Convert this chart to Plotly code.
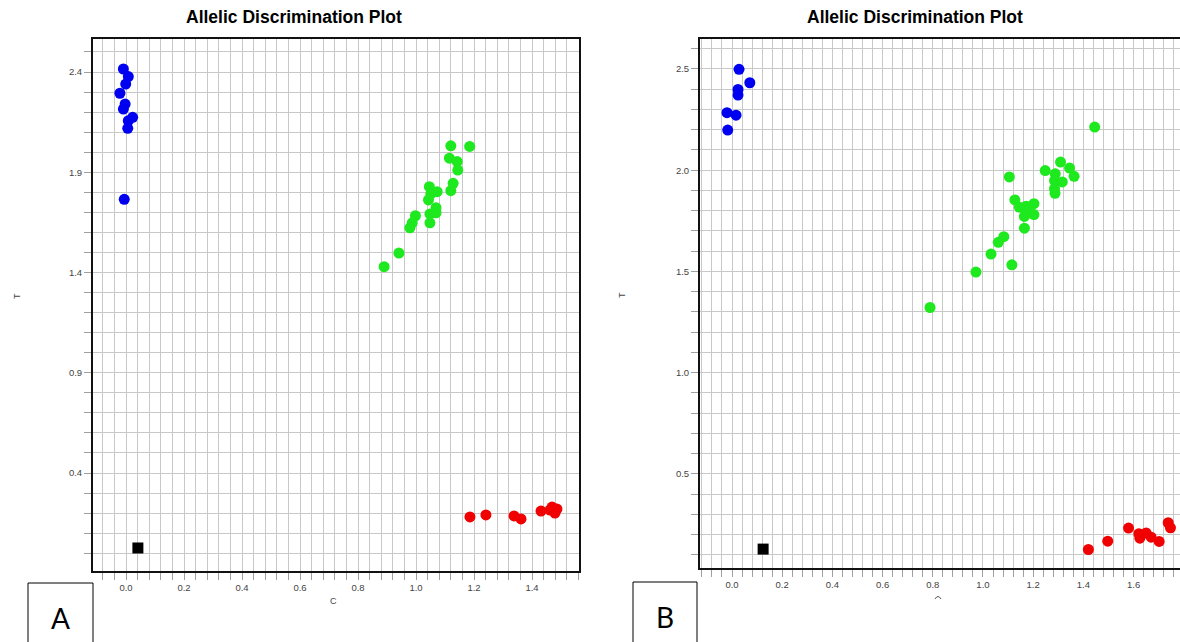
import plotly.graph_objects as go

W, H = 1180, 642

# ---------------- Data: panel A ----------------
a_blue_x = [-0.009, 0.008, -0.001, -0.021, -0.003, -0.009, 0.023, 0.008, 0.006, -0.006]
a_blue_y = [2.415, 2.377, 2.340, 2.294, 2.240, 2.215, 2.174, 2.157, 2.119, 1.765]

a_green_x = [1.120, 1.185, 1.115, 1.142, 1.144, 1.128, 1.120, 1.046, 1.073, 1.051,
             1.043, 1.069, 1.048, 1.069, 0.998, 1.048, 0.987, 0.979, 0.941, 0.890]
a_green_y = [2.032, 2.029, 1.970, 1.953, 1.911, 1.845, 1.808, 1.828, 1.803, 1.792,
             1.762, 1.723, 1.692, 1.698, 1.683, 1.648, 1.648, 1.623, 1.497, 1.429]

a_red_x = [1.186, 1.241, 1.338, 1.362, 1.431, 1.469, 1.486, 1.479, 1.462]
a_red_y = [0.181, 0.191, 0.186, 0.171, 0.210, 0.230, 0.220, 0.200, 0.215]

a_ntc_x = [0.041]
a_ntc_y = [0.026]

# ---------------- Data: panel B ----------------
b_blue_x = [0.028, 0.071, 0.024, 0.024, -0.020, 0.016, -0.017]
b_blue_y = [2.498, 2.432, 2.399, 2.371, 2.284, 2.272, 2.198]

b_green_x = [1.445, 1.309, 1.248, 1.345, 1.363, 1.288, 1.285, 1.316, 1.285, 1.287,
             1.105, 1.127, 1.145, 1.172, 1.203, 1.179, 1.203, 1.165, 1.165, 1.083,
             1.061, 1.032, 1.115, 0.972, 0.789]
b_green_y = [2.213, 2.040, 1.998, 2.011, 1.970, 1.982, 1.949, 1.942, 1.909, 1.886,
             1.967, 1.853, 1.817, 1.822, 1.835, 1.797, 1.781, 1.772, 1.714, 1.672,
             1.644, 1.586, 1.533, 1.497, 1.322]

b_red_x = [1.420, 1.497, 1.580, 1.621, 1.625, 1.650, 1.670, 1.702, 1.738, 1.747]
b_red_y = [0.127, 0.168, 0.233, 0.205, 0.183, 0.209, 0.188, 0.167, 0.259, 0.234]

b_ntc_x = [0.124]
b_ntc_y = [0.129]

title_text = "Allelic Discrimination Plot"
x_title = "C"
y_title = "T"
panel_labels = ["A", "B"]

BLUE, GREEN, RED, BLACK = "#0000f0", "#1ee81e", "#f00000", "#000000"
GRID = "#c8c8c8"


def px(x):
    return x / W


def py(y):
    return 1 - y / H


fig = go.Figure()


def add(x, y, color, symbol, xa, ya):
    fig.add_trace(go.Scatter(
        x=x, y=y, mode="markers", xaxis=xa, yaxis=ya, showlegend=False,
        hoverinfo="x+y",
        marker=dict(color=color, size=11, symbol=symbol, line=dict(width=0)),
    ))


add(a_blue_x, a_blue_y, BLUE, "circle", "x", "y")
add(a_green_x, a_green_y, GREEN, "circle", "x", "y")
add(a_red_x, a_red_y, RED, "circle", "x", "y")
add(a_ntc_x, a_ntc_y, BLACK, "square", "x", "y")
add(b_blue_x, b_blue_y, BLUE, "circle", "x2", "y2")
add(b_green_x, b_green_y, GREEN, "circle", "x2", "y2")
add(b_red_x, b_red_y, RED, "circle", "x2", "y2")
add(b_ntc_x, b_ntc_y, BLACK, "square", "x2", "y2")


def ax(domain, rng, tick0, dtick, mtick0, mdtick, anchor, mirror, fmt):
    return dict(
        domain=domain, range=rng, anchor=anchor, fixedrange=True,
        tick0=tick0, dtick=dtick, tickformat=fmt,
        showgrid=True, gridcolor=GRID, gridwidth=1, zeroline=False,
        showline=True, linecolor="#111", linewidth=2, mirror=mirror,
        ticks="outside", ticklen=7, tickcolor="#a0a0a0", tickwidth=1,
        tickfont=dict(family="Arial, Liberation Sans", size=9.5, color="#444"),
        minor=dict(tick0=mtick0, dtick=mdtick, showgrid=True, gridcolor=GRID,
                   gridwidth=1, ticks="outside", ticklen=7, tickcolor="#a0a0a0"),
    )


layout = dict(
    width=W, height=H, margin=dict(l=0, r=0, t=0, b=0),
    paper_bgcolor="white", plot_bgcolor="white",
    xaxis=ax([px(93), px(579)], [-0.1138, 1.562], 0, 0.2, 0, 0.04, "y", True, ".1f"),
    yaxis=ax([py(571), py(39)], [-0.0888, 2.5646], 0.4, 0.5, 0.4, 0.1, "x", True, ".1f"),
    xaxis2=ax([px(700), 1.0], [-0.1275, 1.785], 0, 0.2, 0, 0.04, "y2", True, ".1f"),
    yaxis2=ax([py(568), py(39)], [0.0356, 2.648], 0.5, 0.5, 0.5, 0.1, "x2", False, ".1f"),
)
fig.update_layout(**layout)

small = dict(family="Arial, Liberation Sans", size=9, color="#444")
title_font = dict(family="Arial, Liberation Sans", size=17.5, color="black")
ann = [
    dict(x=px(294), y=py(17), text="<b>" + title_text + "</b>", font=title_font),
    dict(x=px(915), y=py(17), text="<b>" + title_text + "</b>", font=title_font),
    dict(x=px(333), y=py(601), text=x_title, font=small),
    dict(x=px(17), y=py(296), text=y_title, font=small, textangle=-90),
    dict(x=px(622), y=py(295), text=y_title, font=small, textangle=-90),
    dict(x=px(61), y=py(618), text=panel_labels[0],
         font=dict(family="Lato, Open Sans", size=28, color="black")),
    dict(x=px(665), y=py(617), text=panel_labels[1],
         font=dict(family="Lato, Open Sans", size=28, color="black")),
]
for a in ann:
    a.update(xref="paper", yref="paper", showarrow=False, xanchor="center", yanchor="middle")
fig.update_layout(annotations=ann)

shapes = [
    dict(type="rect", xref="paper", yref="paper", x0=px(28), x1=px(93), y0=py(583), y1=py(650),
         line=dict(color="black", width=1), fillcolor="rgba(0,0,0,0)"),
    dict(type="rect", xref="paper", yref="paper", x0=px(633), x1=px(697), y0=py(582), y1=py(650),
         line=dict(color="black", width=1), fillcolor="rgba(0,0,0,0)"),
    # cut-off top of the "C" axis title in panel B
    dict(type="path", xref="paper", yref="paper",
         path=f"M {px(935)},{py(599)} Q {px(938)},{py(594)} {px(941)},{py(599)}",
         line=dict(color="#555", width=1)),
]
fig.update_layout(shapes=shapes)

fig.write_html("out.html", config={"displayModeBar": False},
               post_script="document.body.style.margin='0';document.body.style.overflow='hidden';")
